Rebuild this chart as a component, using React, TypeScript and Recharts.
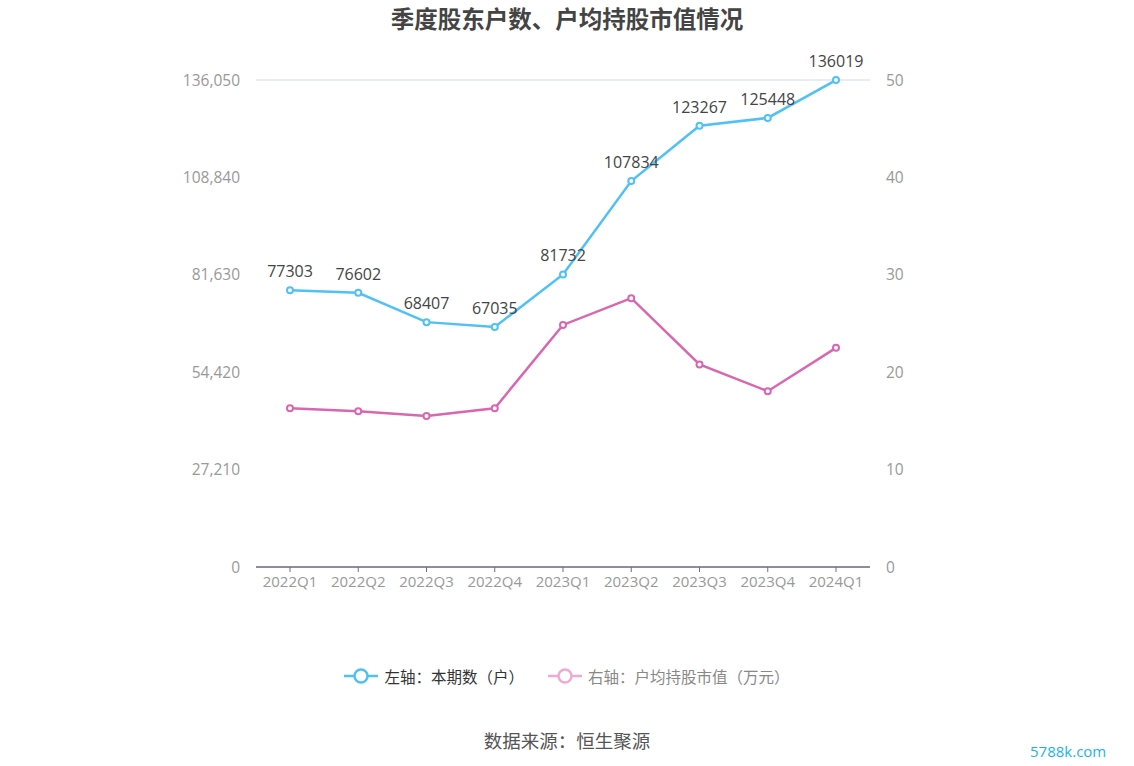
import React from "react";
import { LineChart, Line, XAxis, YAxis, CartesianGrid, LabelList } from "recharts";

const categories = ["2022Q1", "2022Q2", "2022Q3", "2022Q4", "2023Q1", "2023Q2", "2023Q3", "2023Q4", "2024Q1"];
const holders = [77303, 76602, 68407, 67035, 81732, 107834, 123267, 125448, 136019];
const avgValue = [16.3, 16.0, 15.5, 16.3, 24.85, 27.6, 20.8, 18.05, 22.5];
const leftTicks = [0, 27210, 54420, 81630, 108840, 136050];
const rightTicks = [0, 10, 20, 30, 40, 50];

const data = categories.map((c, i) => ({ name: c, holders: holders[i], avg: avgValue[i] }));

const FONT = "'Microsoft YaHei', 'Noto Sans CJK SC', 'Noto Sans', sans-serif";
const NUMFONT = "'Open Sans', 'Noto Sans CJK SC', sans-serif";
const BLUE = "#4fc1f6";
const PINK = "#d966b0";

const fmt = (v: number) => v.toLocaleString("en-US");

const LegendContent = () => (
  <div style={{ display: "flex", justifyContent: "center", alignItems: "center", fontFamily: FONT, fontSize: 15.5 }}>
    <svg width={34} height={16} style={{ marginRight: 6 }}>
      <line x1={0} y1={8} x2={34} y2={8} stroke={BLUE} strokeWidth={2.5} />
      <circle cx={17} cy={8} r={6.5} fill="#fff" stroke={BLUE} strokeWidth={2.5} />
    </svg>
    <span style={{ color: "#333", marginRight: 24 }}>左轴：本期数（户）</span>
    <svg width={34} height={16} style={{ marginRight: 6 }}>
      <line x1={0} y1={8} x2={34} y2={8} stroke="#eeaad5" strokeWidth={2.5} />
      <circle cx={17} cy={8} r={6.5} fill="#fff" stroke="#eeaad5" strokeWidth={2.5} />
    </svg>
    <span style={{ color: "#888" }}>右轴：户均持股市值（万元）</span>
  </div>
);

export default function App() {
  return (
    <div style={{ position: "fixed", left: 0, top: 0, width: 1134, height: 766, background: "#fff", fontFamily: FONT }}>
      <div style={{ position: "absolute", top: 1, left: 0, width: 1134, textAlign: "center", fontSize: 23.5, fontWeight: "bold", color: "#444" }}>
        季度股东户数、户均持股市值情况
      </div>
      <LineChart width={1134} height={766} data={data} margin={{ top: 80, right: 204, bottom: 169, left: 0 }}>
        <CartesianGrid vertical={false} stroke="#e0e6f1" strokeWidth={1.5} />
        <XAxis
          dataKey="name"
          padding={{ left: 34, right: 34 }}
          axisLine={{ stroke: "#6e7079", strokeWidth: 1.5 }}
          tickLine={{ stroke: "#6e7079" }}
          tickSize={5}
          tickMargin={4}
          tick={{ fill: "#999", fontSize: 15, fontFamily: NUMFONT }}
          interval={0}
          height={30}
        />
        <YAxis
          yAxisId="left"
          domain={[0, 136050]}
          ticks={leftTicks}
          tickFormatter={fmt}
          axisLine={false}
          tickLine={false}
          tick={{ fill: "#999", fontSize: 15.5, fontFamily: NUMFONT }}
          width={256}
          tickMargin={10}
        />
        <YAxis
          yAxisId="right"
          orientation="right"
          domain={[0, 50]}
          ticks={rightTicks}
          axisLine={false}
          tickLine={false}
          tick={{ fill: "#999", fontSize: 15.5, fontFamily: NUMFONT }}
          width={60}
          tickMargin={10}
        />
        <Line
          yAxisId="left"
          dataKey="holders"
          stroke={BLUE}
          strokeWidth={2.5}
          dot={{ r: 3, fill: "#fff", stroke: BLUE, strokeWidth: 2 }}
          isAnimationActive={false}
        >
          <LabelList dataKey="holders" position="top" offset={13} fill="#444" fontSize={16} fontFamily={NUMFONT} />
        </Line>
        <Line
          yAxisId="right"
          dataKey="avg"
          stroke={PINK}
          strokeWidth={2.5}
          dot={{ r: 3, fill: "#fff", stroke: PINK, strokeWidth: 2 }}
          isAnimationActive={false}
        />
      </LineChart>
      <div style={{ position: "absolute", top: 665, left: 0, width: 1134 }}>
        <LegendContent />
      </div>
      <div style={{ position: "absolute", top: 727, left: 0, width: 1134, textAlign: "center", fontSize: 18.5, color: "#555" }}>
        数据来源：恒生聚源
      </div>
      <div style={{ position: "absolute", top: 741, left: 1030, fontSize: 15, color: "#1ab4ea", fontFamily: "'Open Sans', sans-serif" }}>
        5788k.com
      </div>
    </div>
  );
}
